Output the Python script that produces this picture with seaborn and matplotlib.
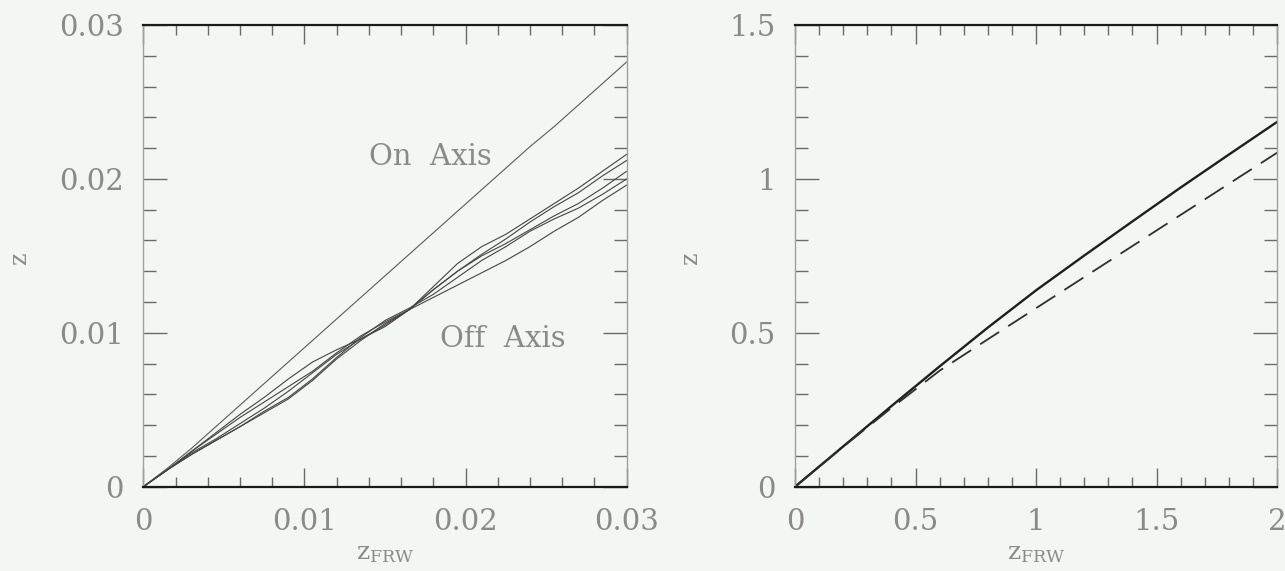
import matplotlib
matplotlib.use("Agg")
import matplotlib.pyplot as plt
from matplotlib.ticker import FixedLocator, FixedFormatter, MultipleLocator
import seaborn as sns

# ---- left panel: small-redshift range, one on-axis and five off-axis observers ----
z_frw_small = [0, 0.0015, 0.003, 0.0045, 0.006, 0.0075, 0.009, 0.0105, 0.012, 0.0135, 0.015,
               0.0165, 0.018, 0.0195, 0.021, 0.0225, 0.024, 0.0255, 0.027, 0.0285, 0.03]
z_on_axis = [0, 0.0012, 0.0025, 0.0039, 0.0053, 0.0067, 0.0081, 0.0095, 0.0109, 0.0123, 0.0137,
             0.0151, 0.0165, 0.0179, 0.0193, 0.0207, 0.0221, 0.0234, 0.0248, 0.0262, 0.0276]
z_off_1 = [0, 0.0011, 0.0023, 0.0035, 0.0047, 0.0058, 0.0070, 0.0081, 0.0089, 0.0096, 0.0104,
           0.0115, 0.0130, 0.0145, 0.0156, 0.0164, 0.0174, 0.0184, 0.0194, 0.0205, 0.0216]
z_off_2 = [0, 0.0011, 0.0023, 0.0034, 0.0045, 0.0055, 0.0065, 0.0075, 0.0087, 0.0098, 0.0107,
           0.0115, 0.0128, 0.0140, 0.0151, 0.0161, 0.0172, 0.0182, 0.0191, 0.0202, 0.0212]
z_off_3 = [0, 0.0011, 0.0022, 0.0031, 0.0041, 0.0051, 0.0062, 0.0074, 0.0086, 0.0096, 0.0105,
           0.0115, 0.0128, 0.0140, 0.0150, 0.0158, 0.0167, 0.0176, 0.0184, 0.0194, 0.0205]
z_off_4 = [0, 0.0011, 0.0021, 0.0030, 0.0039, 0.0049, 0.0058, 0.0070, 0.0084, 0.0097, 0.0108,
           0.0116, 0.0125, 0.0136, 0.0147, 0.0156, 0.0166, 0.0174, 0.0181, 0.0190, 0.0200]
z_off_5 = [0, 0.0011, 0.0021, 0.0030, 0.0039, 0.0048, 0.0057, 0.0069, 0.0083, 0.0095, 0.0106,
           0.0115, 0.0123, 0.0131, 0.0139, 0.0147, 0.0156, 0.0166, 0.0175, 0.0186, 0.0196]

# ---- right panel: large-redshift range ----
z_frw_large = [0, 0.2, 0.4, 0.6, 0.8, 1.0, 1.2, 1.4, 1.6, 1.8, 2.0]
z_solid = [0, 0.131, 0.262, 0.391, 0.517, 0.638, 0.751, 0.862, 0.972, 1.079, 1.185]
z_dashed = [0, 0.130, 0.256, 0.377, 0.479, 0.580, 0.681, 0.782, 0.883, 0.984, 1.085]

# tick values and labels
left_ticks = [0, 0.01, 0.02, 0.03]
left_labels = ["0", "0.01", "0.02", "0.03"]
right_xticks = [0, 0.5, 1.0, 1.5, 2.0]
right_xlabels = ["0", "0.5", "1", "1.5", "2"]
right_yticks = [0, 0.5, 1.0, 1.5]
right_ylabels = ["0", "0.5", "1", "1.5"]

sns.set_theme(style="ticks")
bg = "#f3f7f1"
txt = "#8a8a8a"
plt.rcParams["font.family"] = ["DejaVu Serif"]
plt.rcParams["mathtext.fontset"] = "dejavuserif"

fig = plt.figure(figsize=(12.85, 5.71), dpi=100, facecolor=bg)
ax1 = fig.add_axes([0.1115, 0.1476, 0.3762, 0.8086])
ax2 = fig.add_axes([0.6187, 0.1476, 0.3751, 0.8086])

sns.lineplot(x=z_frw_small, y=z_on_axis, ax=ax1, color="#5a5a5a", lw=0.8, estimator=None)
for ys in (z_off_1, z_off_2, z_off_3, z_off_4, z_off_5):
    sns.lineplot(x=z_frw_small, y=ys, ax=ax1, color="#444444", lw=0.8, estimator=None)

sns.lineplot(x=z_frw_large, y=z_solid, ax=ax2, color="#1e1e1e", lw=1.7, estimator=None)
sns.lineplot(x=z_frw_large, y=z_dashed, ax=ax2, color="#2e2e2e", lw=1.3, estimator=None)
ax2.lines[-1].set_dashes((12.5, 6))

ax1.text(0.0178, 0.0214, "On  Axis", ha="center", va="center", fontsize=21, color=txt)
ax1.text(0.0223, 0.0096, "Off  Axis", ha="center", va="center", fontsize=21, color=txt)


def style_axes(ax, xlim, ylim, xt, xl, yt, yl, xminor, yminor):
    ax.set_facecolor(bg)
    ax.set_xlim(*xlim)
    ax.set_ylim(*ylim)
    ax.xaxis.set_major_locator(FixedLocator(xt))
    ax.xaxis.set_major_formatter(FixedFormatter(xl))
    ax.yaxis.set_major_locator(FixedLocator(yt))
    ax.yaxis.set_major_formatter(FixedFormatter(yl))
    ax.xaxis.set_minor_locator(MultipleLocator(xminor))
    ax.yaxis.set_minor_locator(MultipleLocator(yminor))
    ax.tick_params(axis="both", which="both", direction="in", top=True, right=True,
                   color="#6a6a6a", width=1.0, labelcolor=txt, labelsize=21)
    ax.tick_params(axis="x", which="major", length=14, pad=15)
    ax.tick_params(axis="x", which="minor", length=7)
    ax.tick_params(axis="y", which="major", length=17, pad=14)
    ax.tick_params(axis="y", which="minor", length=9.5)
    for side in ("top", "bottom"):
        ax.spines[side].set_color("#1a1a1a")
        ax.spines[side].set_linewidth(1.6)
    for side in ("left", "right"):
        ax.spines[side].set_color("#a0a0a0")
        ax.spines[side].set_linewidth(1.0)
    ax.set_xlabel(r"$\mathrm{z}_{\mathrm{FRW}}$", fontsize=18, color=txt)
    ax.set_ylabel("z", fontsize=17, color=txt)
    ax.xaxis.set_label_coords(0.5, -0.12)


style_axes(ax1, (0, 0.03), (0, 0.03), left_ticks, left_labels, left_ticks, left_labels, 0.002, 0.002)
style_axes(ax2, (0, 2.0), (0, 1.5), right_xticks, right_xlabels, right_yticks, right_ylabels, 0.1, 0.1)
ax1.yaxis.set_label_coords(-0.232, 0.495)
ax2.yaxis.set_label_coords(-0.194, 0.495)

fig.savefig("out.png", dpi=100, facecolor=bg)
